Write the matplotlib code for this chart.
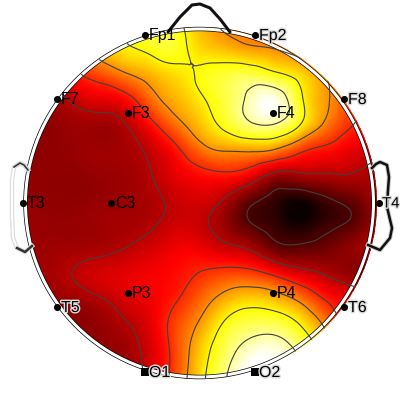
import numpy as np
import matplotlib
matplotlib.use("Agg")
import matplotlib.pyplot as plt
import matplotlib.tri as tri
import matplotlib.patheffects as pe
from matplotlib.patches import Circle

plt.rcParams['font.family'] = ['Liberation Sans', 'DejaVu Sans']

# grid (pixel positions of the samples)
grid_x = [24, 50, 75, 100, 125, 150, 175, 200, 225, 250, 275, 300, 325, 350, 378]
grid_y = [24, 50, 75, 100, 125, 150, 175, 200, 225, 250, 275, 300, 325, 350, 381]

power = [
    [.30, .40, .50, .60, .68, .78, .74, .62, .53, .50, .46, .43, .40, .38, .35],
    [.30, .35, .45, .60, .68, .72, .74, .66, .62, .58, .555, .50, .45, .40, .35],
    [.22, .25, .37, .45, .53, .60, .66, .715, .76, .78, .73, .66, .55, .46, .38],
    [.19, .21, .27, .31, .35, .49, .60, .68, .77, .88, .93, .73, .57, .45, .33],
    [.18, .19, .21, .21, .245, .36, .50, .62, .73, .83, .84, .70, .53, .41, .33],
    [.18, .19, .20, .21, .22, .27, .37, .50, .56, .57, .54, .43, .37, .32, .28],
    [.19, .19, .19, .20, .21, .245, .31, .36, .38, .33, .22, .23, .24, .245, .23],
    [.20, .19, .19, .20, .21, .23, .27, .29, .24, .13, .06, .02, .08, .13, .24],
    [.21, .20, .20, .21, .22, .24, .28, .27, .20, .11, .06, .02, .07, .115, .22],
    [.21, .21, .22, .23, .255, .29, .33, .33, .29, .25, .15, .13, .15, .19, .24],
    [.21, .22, .255, .29, .31, .335, .36, .41, .45, .45, .39, .31, .25, .20, .18],
    [.20, .20, .21, .24, .29, .33, .39, .49, .60, .65, .62, .53, .40, .33, .26],
    [.18, .18, .18, .20, .24, .31, .44, .57, .72, .79, .79, .70, .53, .36, .33],
    [.18, .18, .18, .19, .21, .29, .44, .63, .79, .90, .92, .82, .66, .50, .40],
    [.18, .18, .18, .18, .20, .28, .45, .66, .84, 1.0, .98, .90, .75, .55, .45],
]

levels = [.10, .25, .40, .55, .70, .85]

channels = ['Fp1', 'Fp2', 'F7', 'F3', 'F4', 'F8', 'T3', 'C3', 'T4', 'T5', 'P3', 'P4', 'T6', 'O1', 'O2']
chan_x = [145, 255, 57, 128, 273, 344, 23, 111, 379, 57, 128, 273, 344, 145, 255]
chan_y = [35, 35, 99, 113, 113, 99, 203, 203, 203, 307, 293, 293, 307, 372, 372]
halo_labels = ['Fp2', 'F8', 'T4', 'T6', 'O1', 'O2', 'T5']
square_dots = ['O1', 'O2']

nose_x = [168, 180, 192, 200, 210, 220, 230]
nose_y = [32, 17, 5, 4, 8, 19, 32]
ear_l_x = [28, 24, 20, 14, 12, 12, 13, 17, 25, 32]
ear_l_y = [170, 165, 163, 167, 180, 215, 238, 248, 252, 246]
ear_r_x = [372, 376, 380, 387, 389, 388, 387, 392, 390, 380, 368]
ear_r_y = [168, 164, 162, 165, 177, 190, 207, 228, 238, 250, 245]

fig = plt.figure(figsize=(4, 4), dpi=100)
ax = fig.add_axes([0, 0, 1, 1])
ax.set_xlim(0, 400)
ax.set_ylim(400, 0)
ax.axis('off')

gx, gy = np.meshgrid(grid_x, grid_y)
z = np.array(power)
mesh = tri.Triangulation(gx.ravel(), gy.ravel())
refiner = tri.UniformTriRefiner(mesh)
fine, zfine = refiner.refine_field(z.ravel(), tri.CubicTriInterpolator(mesh, z.ravel()), subdiv=3)
zfine = np.clip(zfine, 0, 1)

disc = Circle((201, 203), 176, transform=ax.transData)
tp = ax.tripcolor(fine, zfine, shading='gouraud', cmap='hot', vmin=0, vmax=.95)
tp.set_clip_path(disc)
cs = ax.tricontour(fine, zfine, levels=levels, colors='#404040', linewidths=0.8)
cs.set_clip_path(disc)

# head outline, white band with thin black edges
ax.add_patch(Circle((199.5, 203), 174, fill=False, ec='black', lw=3.2))
ax.add_patch(Circle((199.5, 203), 174, fill=False, ec='white', lw=2.2))

# nose and ears
ax.plot(nose_x, nose_y, color='#111111', lw=2.2, solid_capstyle='round')
ax.plot(ear_l_x, ear_l_y, color='#dddddd', lw=3.2, zorder=3)
ax.plot(ear_l_x, ear_l_y, color='white', lw=1.4, zorder=3)
ax.plot(ear_l_x[:4], ear_l_y[:4], color='#333333', lw=1.2, zorder=3)
ax.plot(ear_l_x[-3:], ear_l_y[-3:], color='#333333', lw=1.8, zorder=3)
ax.plot(ear_r_x, ear_r_y, color='#cccccc', lw=3.2, zorder=3)
ax.plot(ear_r_x, ear_r_y, color='#111111', lw=1.8, zorder=3)

for name, x, y in zip(channels, chan_x, chan_y):
    marker = 's' if name in square_dots else 'o'
    ax.scatter([x], [y], s=26, marker=marker, color='black', zorder=5, linewidths=0)
    # T4 sits against the right edge of the picture
    if name == 'T4':
        t = ax.text(x + 3, y + 0.5, name, fontsize=10.8, color='black', va='center', ha='left', zorder=6)
    else:
        t = ax.text(x + 4, y + 0.5, name, fontsize=11.5, color='black', va='center', ha='left', zorder=6)
    if name in halo_labels:
        t.set_path_effects([pe.withStroke(linewidth=2, foreground='#dcdcdc')])

fig.savefig('out.png', dpi=100)
